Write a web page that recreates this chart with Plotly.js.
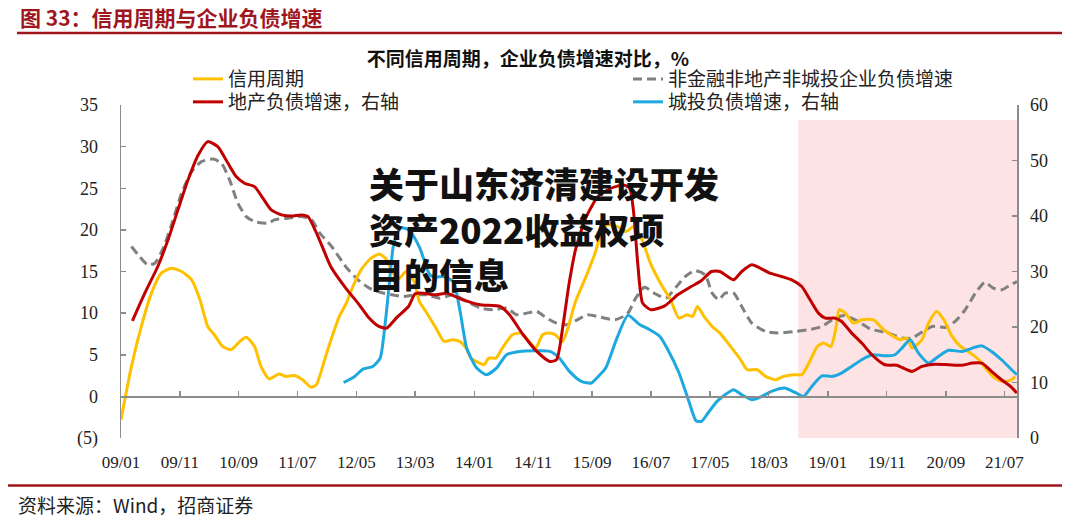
<!DOCTYPE html>
<html>
<head>
<meta charset="utf-8">
<script src="https://cdn.plot.ly/plotly-3.0.1.min.js"></script>
<style>
  html, body { margin: 0; padding: 0; background: #ffffff; }
  #chart { width: 1080px; height: 520px; }
</style>
</head>
<body>
<div id="chart"></div>
<script>
// ---------------- data ----------------
const seriesNames = ['信用周期', '非金融非地产非城投企业负债增速', '地产负债增速，右轴', '城投负债增速，右轴'];

const tickDates = ['2009-01-01','2009-11-01','2010-09-01','2011-07-01','2012-05-01','2013-03-01','2014-01-01','2014-11-01',
  '2015-09-01','2016-07-01','2017-05-01','2018-03-01','2019-01-01','2019-11-01','2020-09-01','2021-07-01'];
const tickLabels = ['09/01','09/11','10/09','11/07','12/05','13/03','14/01','14/11',
  '15/09','16/07','17/05','18/03','19/01','19/11','20/09','21/07'];

const leftTickVals = [-5, 0, 5, 10, 15, 20, 25, 30, 35];
const leftTickText = ['(5)', '0', '5', '10', '15', '20', '25', '30', '35'];
const rightTickVals = [0, 10, 20, 30, 40, 50, 60];

// 信用周期 (left axis)
const creditDates = ['2009-01-01','2009-02-24','2009-04-16','2009-06-07','2009-07-28','2009-09-19','2009-11-10','2010-01-01','2010-02-13','2010-03-25',
  '2010-04-28','2010-06-10','2010-07-25','2010-09-07','2010-10-10','2010-11-22','2010-12-25','2011-02-06','2011-03-28','2011-05-04',
  '2011-06-16','2011-07-28','2011-09-10','2011-10-07','2011-11-19','2011-12-22','2012-02-03','2012-03-10','2012-04-13','2012-05-25',
  '2012-07-16','2012-08-28','2012-10-01','2012-11-07','2012-12-01','2013-01-13','2013-02-24','2013-03-22','2013-04-25','2013-06-16',
  '2013-07-28','2013-09-10','2013-10-16','2013-11-19','2013-12-13','2014-01-10','2014-02-20','2014-03-16','2014-04-22','2014-05-25',
  '2014-07-16','2014-08-28','2014-10-10','2014-11-13','2014-12-19','2015-01-22','2015-02-23','2015-04-01','2015-05-04','2015-06-07',
  '2015-07-28','2015-09-19','2015-10-22','2015-11-19','2016-01-10','2016-02-22','2016-04-04','2016-05-16','2016-06-28','2016-08-19',
  '2016-10-10','2016-11-22','2017-01-04','2017-02-01','2017-02-26','2017-04-01','2017-05-13','2017-06-22','2017-08-16','2017-10-07',
  '2017-11-10','2018-01-01','2018-02-13','2018-04-04','2018-05-16','2018-07-07','2018-08-19','2018-09-25','2018-11-07','2018-12-10',
  '2019-01-16','2019-02-10','2019-02-28','2019-04-01','2019-05-13','2019-06-25','2019-08-25','2019-10-16','2019-12-07','2020-01-10',
  '2020-02-13','2020-03-10','2020-04-04','2020-05-01','2020-06-04','2020-07-16','2020-08-22','2020-10-04','2020-11-16','2021-01-07',
  '2021-02-19','2021-04-01','2021-05-13','2021-06-25','2021-08-07','2021-08-25'];
const creditValues = [-2.8,3.6,8.4,12.4,14.8,15.4,15.0,14.0,11.6,8.4,
  7.4,6.0,5.6,6.6,7.1,6.0,3.6,2.1,2.7,2.4,
  2.5,2.0,1.1,1.4,4.4,6.8,9.6,11.2,13.2,15.2,
  16.6,17.1,16.5,14.8,14.0,15.0,13.8,11.4,10.2,8.2,
  6.6,6.8,6.6,5.8,4.6,4.2,3.8,4.6,4.6,5.8,
  7.4,7.6,6.6,5.8,7.4,7.6,7.4,6.6,8.6,11.4,
  14.2,17.4,20.0,20.6,20.4,19.8,20.4,18.8,16.0,13.6,
  11.6,9.4,9.8,9.6,10.8,9.6,8.4,7.6,6.0,4.4,
  3.2,3.2,2.4,2.0,2.4,2.6,2.6,4.0,6.0,6.4,
  6.0,8.0,10.4,10.0,8.8,9.2,9.2,8.0,7.2,6.8,
  7.0,5.8,6.2,6.8,8.8,10.2,9.2,7.2,6.0,5.2,
  4.4,3.2,2.2,1.8,2.0,2.4];

// 非金融非地产非城投企业负债增速 (left axis)
const corpDates = ['2009-02-24','2009-04-07','2009-05-19','2009-06-25','2009-08-07','2009-09-19','2009-11-10','2010-01-01','2010-02-21','2010-04-22',
  '2010-06-04','2010-07-16','2010-08-28','2010-10-10','2010-11-22','2011-02-01','2011-03-04','2011-05-13','2011-07-22','2011-09-13',
  '2011-10-25','2011-12-25','2012-03-10','2012-05-10','2012-07-07','2012-09-01','2012-11-01','2013-01-01','2013-03-01','2013-04-28',
  '2013-07-07','2013-09-13','2013-11-22','2014-02-01','2014-04-07','2014-06-16','2014-08-07','2014-09-28','2014-11-19','2015-01-10',
  '2015-03-01','2015-04-22','2015-06-16','2015-08-07','2015-10-16','2015-12-28','2016-03-01','2016-04-13','2016-05-28','2016-07-25',
  '2016-09-16','2016-11-10','2016-12-25','2017-02-13','2017-04-07','2017-05-13','2017-06-16','2017-07-19','2017-09-01','2017-10-13',
  '2017-12-04','2018-02-13','2018-04-19','2018-07-16','2018-09-22','2018-12-01','2019-02-07','2019-03-28','2019-06-07','2019-08-07',
  '2019-11-10','2020-01-19','2020-03-10','2020-05-07','2020-06-22','2020-09-01','2020-10-19','2020-12-10','2021-02-01','2021-03-22',
  '2021-05-04','2021-06-19','2021-08-01','2021-09-04'];
const corpValues = [18.0,16.8,15.8,16.0,17.8,20.6,24.4,27.0,28.2,28.5,
  28.0,26.0,23.2,21.6,21.0,20.8,21.2,21.4,21.6,21.2,
  19.6,18.0,15.5,14.0,13.0,12.5,12.2,12.0,12.2,12.2,
  11.8,12.2,11.4,10.6,10.4,10.6,9.8,10.0,10.2,9.4,
  8.8,8.6,9.2,9.8,9.5,9.2,9.9,11.8,13.1,12.3,
  11.8,13.2,14.4,15.1,14.6,12.4,11.6,12.4,12.4,10.8,
  8.8,7.8,7.6,7.8,8.0,8.4,9.4,9.7,9.0,8.1,
  7.6,7.0,7.0,7.8,8.4,8.3,9.0,10.4,12.4,13.7,
  13.0,12.8,13.4,13.8];

// 地产负债增速 (right axis)
const realEstateDates = ['2009-03-01','2009-05-04','2009-07-10','2009-09-01','2009-10-22','2009-12-13','2010-02-04','2010-03-25','2010-05-16','2010-06-28',
  '2010-08-19','2010-10-01','2010-11-22','2011-01-04','2011-02-16','2011-04-10','2011-06-01','2011-07-22','2011-08-25','2011-10-16',
  '2011-12-22','2012-03-07','2012-05-16','2012-07-01','2012-08-25','2012-10-04','2012-11-25','2013-01-25','2013-03-01','2013-04-10',
  '2013-06-19','2013-08-10','2013-11-04','2014-02-01','2014-05-13','2014-07-01','2014-09-10','2014-11-19','2015-01-25','2015-03-01',
  '2015-04-04','2015-05-04','2015-06-07','2015-07-28','2015-10-01','2015-12-07','2016-02-10','2016-03-13','2016-04-01','2016-04-25',
  '2016-05-19','2016-07-01','2016-09-10','2016-11-16','2017-01-25','2017-03-16','2017-05-10','2017-06-22','2017-07-19','2017-09-01',
  '2017-10-13','2017-12-04','2018-01-16','2018-03-07','2018-05-07','2018-06-28','2018-08-19','2018-10-01','2018-11-13','2018-12-19',
  '2019-02-07','2019-03-13','2019-05-04','2019-06-25','2019-08-16','2019-10-22','2019-12-22','2020-03-10','2020-05-01','2020-07-07',
  '2020-09-16','2020-11-25','2021-01-16','2021-03-07','2021-04-25','2021-06-16','2021-08-01','2021-09-04'];
const realEstateValues = [21.1,26.1,30.9,35.7,41.1,46.5,51.0,53.4,52.5,50.1,
  47.1,45.9,45.3,43.2,41.1,40.2,40.0,40.2,39.9,36.3,
  30.8,27.0,24.0,21.8,20.1,19.8,21.7,23.7,26.0,26.1,
  25.8,26.1,24.9,24.0,23.7,22.2,18.6,15.6,13.8,14.1,
  20.4,27.6,33.9,39.5,43.5,45.0,45.6,45.0,41.1,30.9,
  24.3,23.1,23.8,25.8,27.3,28.3,30.0,30.0,29.4,28.5,
  30.0,31.2,30.6,29.7,29.1,28.5,27.3,24.9,22.5,21.6,
  21.6,21.0,18.9,17.1,15.0,13.2,13.1,12.0,12.9,13.3,
  13.2,13.1,13.5,13.5,12.0,10.5,9.3,8.1];

// 城投负债增速 (right axis)
const lgfvDates = ['2012-02-25','2012-04-22','2012-06-04','2012-07-25','2012-09-01','2012-09-25','2012-10-16','2012-11-10','2012-12-13','2013-01-07',
  '2013-02-04','2013-03-25','2013-05-16','2013-06-19','2013-07-22','2013-09-13','2013-10-19','2013-11-22','2014-01-13','2014-03-04',
  '2014-04-25','2014-06-16','2014-08-22','2014-11-19','2015-01-25','2015-03-16','2015-05-07','2015-07-07','2015-08-28','2015-09-25',
  '2015-11-10','2016-01-07','2016-03-04','2016-05-01','2016-06-25','2016-08-16','2016-09-25','2016-11-22','2017-01-13','2017-02-19',
  '2017-03-19','2017-04-22','2017-06-07','2017-07-19','2017-09-01','2017-10-13','2017-12-04','2018-01-25','2018-03-16','2018-05-22',
  '2018-07-16','2018-08-28','2018-10-10','2018-12-01','2019-01-22','2019-03-13','2019-05-04','2019-06-25','2019-08-19','2019-10-22',
  '2019-12-13','2020-01-19','2020-03-01','2020-04-13','2020-06-04','2020-07-25','2020-09-16','2020-11-25','2021-01-16','2021-03-07',
  '2021-04-25','2021-06-16','2021-08-07','2021-09-04'];
const lgfvValues = [10.0,11.1,12.4,12.9,14.4,20.1,27.0,35.0,37.8,37.8,
  37.2,34.2,29.4,29.0,29.1,28.2,22.8,16.2,12.6,11.4,
  12.6,15.0,15.6,15.7,15.6,14.4,12.0,10.2,9.9,10.8,
  12.6,18.0,22.1,20.5,19.5,18.3,16.0,11.8,6.6,3.1,
  3.0,4.5,6.6,7.8,8.7,7.8,6.9,7.5,8.4,9.0,
  8.2,7.5,9.3,11.2,11.1,11.7,12.9,14.1,15.0,14.8,
  15.0,16.2,17.7,15.3,13.5,14.7,15.8,15.6,16.2,16.6,
  15.6,14.1,12.3,11.4];

const xRange = ['2009-01-01', '2021-09-04'];
const shadeStart = '2018-08-01';

// ---------------- styles ----------------
const serif = 'Liberation Serif, Times New Roman, serif';
const cjk = 'Noto Sans CJK SC, sans-serif';
const axisGray = '#8c8c8c';
const darkRed = '#a0161d';

// plot-area geometry (pixels) used only to place the decorations in paper units
const PL = 121, PR = 1017, PT = 105, PB = 438.4;
const px = v => (v - PL) / (PR - PL);
const py = v => (PB - v) / (PB - PT);

function lineTrace(name, x, y, color, yaxis, legend, dash) {
  return {
    type: 'scatter', mode: 'lines', name: name, x: x, y: y,
    xaxis: 'x', yaxis: yaxis, legend: legend,
    line: { color: color, width: 3, shape: 'spline', smoothing: 0.6, dash: dash || 'solid' },
    hoverinfo: 'x+y+name'
  };
}

const traces = [
  lineTrace(seriesNames[1], corpDates, corpValues, '#808080', 'y', 'legend2', '9px,5px'),
  lineTrace(seriesNames[0], creditDates, creditValues, '#ffc000', 'y', 'legend', null),
  lineTrace(seriesNames[3], lgfvDates, lgfvValues, '#1ea8e0', 'y2', 'legend4', null),
  lineTrace(seriesNames[2], realEstateDates, realEstateValues, '#c00000', 'y2', 'legend3', null),
  // carrier for the zero-line axis (no marks)
  { type: 'scatter', mode: 'lines', x: [], y: [], xaxis: 'x2', yaxis: 'y', showlegend: false, hoverinfo: 'skip' }
];

function legendAt(xPx, yPx) {
  return {
    xref: 'paper', yref: 'paper', x: px(xPx), y: py(yPx),
    xanchor: 'left', yanchor: 'middle', bgcolor: 'rgba(0,0,0,0)', borderwidth: 0,
    font: { family: cjk, size: 19, color: '#222' }
  };
}

const layout = {
  width: 1080, height: 520,
  paper_bgcolor: '#ffffff', plot_bgcolor: '#ffffff',
  margin: { l: PL, r: 1080 - PR, t: PT, b: 520 - PB },
  title: {
    text: '不同信用周期，企业负债增速对比，%',
    xref: 'container', yref: 'container', x: 528 / 1080, y: 1 - 59 / 520,
    xanchor: 'center', yanchor: 'middle',
    font: { family: cjk, size: 19, color: '#111', weight: 700 }
  },
  showlegend: true,
  legend: legendAt(188, 79),
  legend2: legendAt(628, 79),
  legend3: legendAt(188, 102),
  legend4: legendAt(628, 102),
  xaxis: {
    type: 'date', range: xRange,
    tickvals: tickDates, ticktext: tickLabels,
    showline: false, ticks: '', showgrid: false, zeroline: false,
    ticklabelstandoff: 12,
    tickfont: { family: serif, size: 17, color: '#222' }
  },
  xaxis2: {
    type: 'date', matches: 'x', overlaying: 'x', anchor: 'free', position: 0.125,
    tickvals: tickDates, showticklabels: false,
    showline: true, linecolor: axisGray, linewidth: 1.5,
    ticks: 'inside', ticklen: 5, tickcolor: axisGray, tickwidth: 1.5,
    showgrid: false, zeroline: false
  },
  yaxis: {
    range: [-5, 35], tickvals: leftTickVals, ticktext: leftTickText,
    showline: true, linecolor: axisGray, linewidth: 1.5,
    ticks: 'inside', ticklen: 5, tickcolor: axisGray, tickwidth: 1.5,
    showgrid: false, zeroline: false,
    ticklabelstandoff: 18,
    tickfont: { family: serif, size: 18, color: '#222' }
  },
  yaxis2: {
    range: [0, 60], tickvals: rightTickVals,
    overlaying: 'y', side: 'right', anchor: 'x',
    showline: true, linecolor: axisGray, linewidth: 1.5,
    ticks: 'inside', ticklen: 5, tickcolor: axisGray, tickwidth: 1.5,
    showgrid: false, zeroline: false,
    ticklabelstandoff: 8,
    tickfont: { family: serif, size: 18, color: '#222' }
  },
  shapes: [
    { type: 'rect', layer: 'below', xref: 'x', yref: 'paper', x0: shadeStart, x1: xRange[1], y0: 0, y1: py(120),
      fillcolor: '#fde3e3', line: { width: 0 } },
    { type: 'line', xref: 'paper', yref: 'paper', x0: px(17), x1: px(1062), y0: py(33), y1: py(33),
      line: { color: darkRed, width: 2.5 } },
    { type: 'line', xref: 'paper', yref: 'paper', x0: px(8), x1: px(1062), y0: py(486), y1: py(486),
      line: { color: darkRed, width: 2.5 } }
  ],
  annotations: [
    { text: '图 33：信用周期与企业负债增速', xref: 'paper', yref: 'paper', x: px(18), y: py(17),
      xanchor: 'left', yanchor: 'middle', showarrow: false,
      font: { family: cjk, size: 21, color: darkRed, weight: 700 } },
    { text: '资料来源：Wind，招商证券', xref: 'paper', yref: 'paper', x: px(16), y: py(505),
      xanchor: 'left', yanchor: 'middle', showarrow: false,
      font: { family: cjk, size: 19, color: '#222' } },
    { text: '关于山东济清建设开发<br>资产2022收益权项<br>目的信息', xref: 'paper', yref: 'paper', x: px(367), y: py(228),
      xanchor: 'left', yanchor: 'middle', align: 'left', showarrow: false,
      font: { family: cjk, size: 35, color: '#111', weight: 900 } }
  ]
};

Plotly.newPlot('chart', traces, layout, { displayModeBar: false, staticPlot: true });
</script>
</body>
</html>
